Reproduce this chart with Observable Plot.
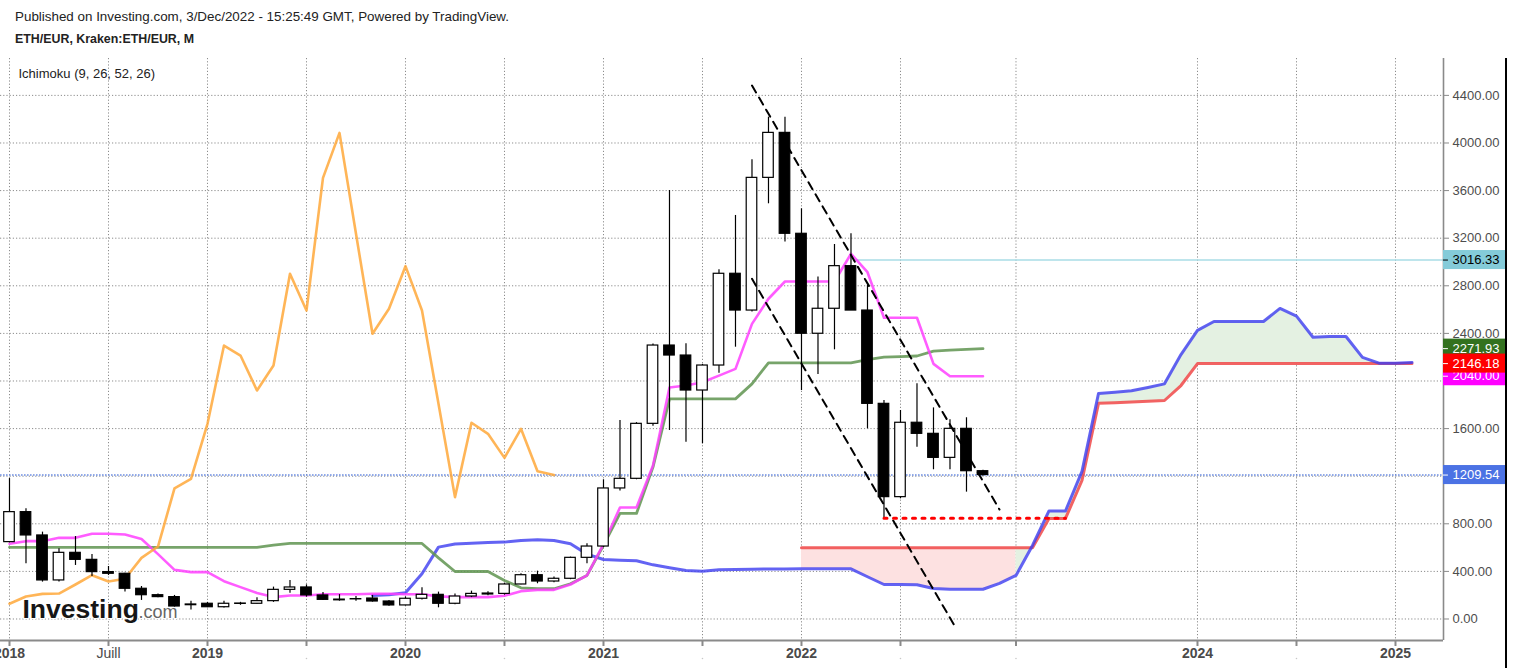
<!DOCTYPE html>
<html>
<head>
<meta charset="utf-8">
<script src="https://cdn.jsdelivr.net/npm/d3@7"></script>
<script src="https://cdn.jsdelivr.net/npm/@observablehq/plot@0.6"></script>
<style>
  html, body { margin: 0; padding: 0; background: #fff; }
  body { width: 1513px; height: 668px; overflow: hidden; position: relative; font-family: "Liberation Sans", Arial, sans-serif; color: #222; }
  #hdr { position: relative; height: 58px; }
  #hdr div { position: absolute; left: 15px; white-space: nowrap; }
  #chart svg { display: block; }
  #edge { position: absolute; left: 1505px; top: 58px; width: 1.5px; height: 610px; background: #000; }
</style>
</head>
<body>
<div id="hdr">
  <div style="top:9px;font-size:13.4px">Published on Investing.com, 3/Dec/2022 - 15:25:49 GMT, Powered by TradingView.</div>
  <div style="top:32px;font-size:12.4px;font-weight:bold">ETH/EUR, Kraken:ETH/EUR, M</div>
</div>
<div id="chart"></div>
<div id="edge"></div>
<script>
// ---- Monthly candles, month index 0 = Jan 2018 ... 59 = Dec 2022 (EUR) ----
const openP  = [646,898,702,324,556,497,394,380,254,200,184,122,128,99,130,128,150,245,265,198,163,165,172,147,114,170,203,128,189,206,211,290,368,315,338,514,609,1097,1178,1640,2298,2214,1920,2130,2901,2592,3707,4085,3237,2397,2607,2965,2592,1808,1024,1649,1556,1354,1598,1242];
const highP  = [1180,926,730,590,693,542,441,385,273,211,198,150,140,150,140,178,268,324,287,223,205,190,198,155,185,262,226,211,234,230,301,380,402,352,520,632,1170,1668,1650,2310,3601,2312,2140,2934,3391,3859,4217,4217,3447,2873,3147,3237,2803,1836,1752,1976,1774,1674,1691,1250];
const lowP   = [640,464,310,310,450,357,366,226,156,178,100,75,95,92,115,125,140,217,184,156,150,150,142,108,110,160,94,120,180,195,200,288,296,305,330,464,600,1075,1170,1620,1584,1486,1472,2066,2284,2580,3489,3167,1920,2055,2262,2592,1598,845,1010,1444,1254,1254,1066,1200];
const closeP = [898,702,324,556,497,394,380,254,200,184,105,116,99,128,127,150,245,265,198,161,157,167,147,114,170,203,128,189,211,214,290,368,315,338,514,609,1097,1178,1640,2298,2214,1920,2130,2901,2592,3707,4085,3237,2397,2607,2965,2592,1808,1024,1649,1556,1354,1598,1242,1210];

// ---- Ichimoku (9, 26, 52, 26) ----
const tenkan = [632,654,654,682,682,716,716,710,672,545,413,394,394,318,268,218,184,198,198,208,208,208,212,212,208,208,190,184,184,184,195,234,245,245,290,366,630,937,937,1290,1945,1962,1990,2045,2102,2480,2691,2836,2836,2836,2836,3069,2914,2531,2531,2531,2144,2040,2040,2040];
const kijun = [602,602,602,602,602,602,602,602,602,602,602,602,602,602,602,602,620,635,635,635,635,635,635,635,635,635,514,399,399,399,324,262,254,254,296,366,620,887,887,1276,1850,1850,1850,1850,1850,1976,2153,2153,2153,2153,2153,2153,2180,2200,2205,2210,2251,2260,2266,2271.93];
const chikouStart = 0;
const chikou = [128,189,211,214,290,368,315,338,514,609,1097,1178,1640,2298,2214,1920,2130,2901,2592,3707,4085,3237,2397,2607,2965,2592,1808,1024,1649,1556,1354,1598,1242,1210];
const senkouAStart = 22;
const senkouA = [198,203,220,380,604,630,637,643,646,660,665,660,632,545,500,494,490,455,430,408,402,413,416,418,420,420,422,422,422,422,355,290,290,288,256,250,250,250,300,366,618,908,908,1240,1895,1905,1918,1946,1976,2222,2425,2500,2500,2500,2500,2610,2545,2368,2374,2374,2198,2150,2150,2156];
const senkouBStart = 48;
const senkouB = [598,598,598,598,598,598,598,598,598,598,598,598,598,598,598,845,845,1164,1812,1818,1824,1830,1836,1962,2146.18,2146.18,2146.18,2146.18,2146.18,2146.18,2146.18,2146.18,2146.18,2146.18,2146.18,2146.18,2146.18,2146.18];

// ---- Drawings ----
const trend1 = [{m: 45.0, v: 4483}, {m: 60.0, v: 920}];
const trend2 = [{m: 45.0, v: 2859}, {m: 57.33, v: -69}];
const redDotted = [{m: 53, v: 847}, {m: 64, v: 847}];
const cyanLevel = [{m1: 51.3, v: 3016.33}];
const lastPrice = 1209.54;

// ---- Axes ----
const xTickMonths = [0, 6, 12, 18, 24, 30, 36, 42, 48, 54, 61, 72, 78, 84];
const xTickLabels = ["2018", "Juill", "2019", "", "2020", "", "2021", "", "2022", "", "", "2024", "", "2025"];
const yTicks = [0, 400, 800, 1200, 1600, 2000, 2400, 2800, 3200, 3600, 4000, 4400];
const priceLabels = [
  {v: 3016.33, bg: "#84cbd9", fg: "#000"},
  {v: 2271.93, bg: "#33711f", fg: "#fff"},
  {v: 2040.00, bg: "#ff00ff", fg: "#fff"},
  {v: 2146.18, bg: "#ff0000", fg: "#fff"},
  {v: 1209.54, bg: "#4b72e4", fg: "#fff"}
];

// ---- tables ----
const candles = openP.map((o, i) => ({m: i, o, h: highP[i], l: lowP[i], c: closeP[i]}));
const tenkanT = tenkan.map((v, i) => ({m: i, v}));
const kijunT = kijun.map((v, i) => ({m: i, v}));
const chikouT = chikou.map((v, i) => ({m: chikouStart + i, v}));
const spanA = senkouA.map((v, i) => ({m: senkouAStart + i, v}));
const spanB = senkouB.map((v, i) => ({m: senkouBStart + i, v}));

// cloud segments grouped into runs of same colour (colour taken from the segment's end)
const cloudRows = [];
{
  const aAt = m => senkouA[m - senkouAStart];
  const bAt = m => senkouB[m - senkouBStart];
  const last = senkouBStart + senkouB.length - 1;
  let run = -1, prevCol = null;
  for (let m = senkouBStart; m < last; m++) {
    const col = aAt(m + 1) >= bAt(m + 1) ? "g" : "r";
    if (col !== prevCol) { run++; prevCol = col; cloudRows.push({m, a: aAt(m), b: bAt(m), run, col}); }
    cloudRows.push({m: m + 1, a: aAt(m + 1), b: bAt(m + 1), run, col});
  }
}

const xDomain = [-0.545, 86.91];
const yDomain = [-180.7, 4710];
const xMax = xDomain[1];
const boxW = 3.76;   // label box width in months
const boxH = 80;     // half box height in price units

const labelled = xTickMonths.map((m, i) => ({m, t: xTickLabels[i]}));

const chart = Plot.plot({
  width: 1513,
  height: 610,
  marginTop: 0,
  marginRight: 70,
  marginBottom: 28,
  marginLeft: 0,
  x: {type: "linear", domain: xDomain, axis: null},
  y: {type: "linear", domain: yDomain, axis: null},
  style: {fontFamily: "'Liberation Sans', Arial, sans-serif", fontSize: "13px", background: "white", overflow: "visible"},
  marks: [
    Plot.gridY(yTicks, {stroke: "#8c8c8c", strokeOpacity: 1, strokeDasharray: "1.2,2"}),
    Plot.gridX(xTickMonths, {stroke: "#8c8c8c", strokeOpacity: 1, strokeDasharray: "1.2,2"}),
    // cloud
    Plot.areaY(cloudRows.filter(d => d.col === "r"), {x: "m", y1: "b", y2: "a", z: "run", fill: "#fde1e1", fillOpacity: 1}),
    Plot.areaY(cloudRows.filter(d => d.col === "g"), {x: "m", y1: "b", y2: "a", z: "run", fill: "#e4f1e2", fillOpacity: 1}),
    // levels
    Plot.ruleY([lastPrice], {stroke: "#6f8fe2", strokeWidth: 1.6, strokeDasharray: "1.6,1.4"}),
    Plot.ruleY(cyanLevel, {y: "v", x1: "m1", x2: () => xMax, stroke: "#a9dce6", strokeWidth: 1.5}),
    // ichimoku
    Plot.line(spanB, {x: "m", y: "v", stroke: "#f04848", strokeOpacity: 0.85, strokeWidth: 3}),
    Plot.line(spanA, {x: "m", y: "v", stroke: "#3c3cf0", strokeOpacity: 0.8, strokeWidth: 3}),
    Plot.line(kijunT, {x: "m", y: "v", stroke: "#5f9450", strokeOpacity: 0.85, strokeWidth: 2.8}),
    Plot.line(tenkanT, {x: "m", y: "v", stroke: "#ff40ff", strokeOpacity: 0.85, strokeWidth: 2.6}),
    Plot.line(chikouT, {x: "m", y: "v", stroke: "#ffa83a", strokeOpacity: 0.85, strokeWidth: 2.6}),
    // candles
    Plot.ruleX(candles, {x: "m", y1: "l", y2: "h", stroke: "#000", strokeWidth: 1.2}),
    Plot.rect(candles.filter(d => d.c >= d.o), {x1: d => d.m - 0.32, x2: d => d.m + 0.32, y1: "o", y2: "c", fill: "#fff", stroke: "#000", strokeWidth: 1.2}),
    Plot.rect(candles.filter(d => d.c < d.o), {x1: d => d.m - 0.32, x2: d => d.m + 0.32, y1: "o", y2: "c", fill: "#000", stroke: "#000", strokeWidth: 1.2}),
    // drawings
    Plot.line(trend1, {x: "m", y: "v", stroke: "#000", strokeWidth: 2, strokeDasharray: "8,6"}),
    Plot.line(trend2, {x: "m", y: "v", stroke: "#000", strokeWidth: 2, strokeDasharray: "8,6"}),
    Plot.line(redDotted, {x: "m", y: "v", stroke: "#ff0000", strokeWidth: 3, strokeDasharray: "3,6.5"}),
    // axis frame
    Plot.ruleY([yDomain[0]], {stroke: "#8a8a8a", strokeWidth: 2}),
    Plot.ruleX([xMax], {stroke: "#8a8a8a", strokeWidth: 1.6}),
    Plot.axisX(xTickMonths, {tickSize: 6, tickFormat: () => "", stroke: "#8a8a8a", strokeWidth: 2}),
    Plot.text(labelled.filter(d => d.t && d.t !== "Juill"), {x: "m", text: "t", frameAnchor: "bottom", dy: 13, lineAnchor: "middle", fontWeight: "bold", fontSize: 14, fill: "#4a4a4a"}),
    Plot.text(labelled.filter(d => d.t === "Juill"), {x: "m", text: "t", frameAnchor: "bottom", dy: 13, lineAnchor: "middle", fontSize: 14, fill: "#4a4a4a"}),
    Plot.dot(labelled.filter(d => !d.t), {x: "m", frameAnchor: "bottom", dy: 18, r: 0.8, fill: "#c8c8c8", stroke: null}),
    Plot.axisY(yTicks, {anchor: "right", tickSize: 5, tickPadding: 4, tickFormat: d => d.toFixed(2), stroke: "#8a8a8a", fill: "#4d4d4d", fontSize: 13}),
    // texts inside the pane
    Plot.text(["Ichimoku (9, 26, 52, 26)"], {text: d => d, frameAnchor: "top-left", dx: 18, dy: 15, lineAnchor: "middle", textAnchor: "start", fontSize: 13, fill: "#222"}),
    Plot.text(["Investing"], {text: d => d, frameAnchor: "bottom-left", dx: 22, dy: -23, lineAnchor: "bottom", textAnchor: "start", fontSize: 26.5, fontWeight: "bold", fill: "#161616", stroke: "#fff", strokeWidth: 2, paintOrder: "stroke"}),
    Plot.text([".com"], {text: d => d, frameAnchor: "bottom-left", dx: 138, dy: -23, lineAnchor: "bottom", textAnchor: "start", fontSize: 18, fill: "#666", stroke: "#fff", strokeWidth: 2, paintOrder: "stroke"}),
    // price labels on the scale
    ...priceLabels.flatMap(p => [
      Plot.rect([p], {x1: () => xMax, x2: () => xMax + boxW, y1: d => d.v - boxH, y2: d => d.v + boxH, fill: p.bg}),
      Plot.ruleY([p], {y: "v", x1: () => xMax, x2: () => xMax + 0.3, stroke: p.fg, strokeWidth: 1}),
      Plot.text([p], {x: () => xMax + 0.545, y: "v", text: d => d.v.toFixed(2), textAnchor: "start", lineAnchor: "middle", fontSize: 13, fill: p.fg})
    ])
  ]
});
document.getElementById("chart").appendChild(chart);
</script>
</body>
</html>
